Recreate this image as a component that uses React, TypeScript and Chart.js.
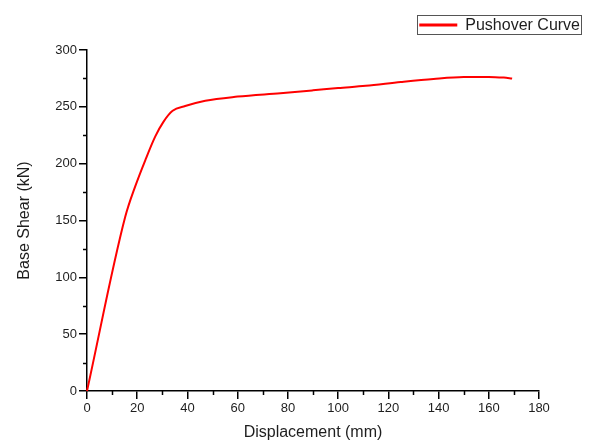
import React, { useEffect, useRef } from 'react';
import { Chart, registerables } from 'chart.js';

Chart.register(...registerables);

const displacement = [0, 15.2, 19.2, 23.2, 27.2, 30.5, 34.1, 39.1, 47.1, 60, 77, 90, 100, 111, 125, 138, 150, 160, 166, 169.3];
const baseShear = [0, 153, 180, 203, 224, 237, 246.5, 250.7, 255.4, 259, 262, 264.5, 266.5, 268.5, 271.8, 274.5, 276.2, 276.3, 275.7, 275];
const seriesLabel = 'Pushover Curve';
const xTitle = 'Displacement (mm)';
const yTitle = 'Base Shear (kN)';
const xRange = [0, 180];
const yRange = [0, 300];
const xStep = 20;
const yStep = 50;

const FONT = "'Liberation Sans', Arial, sans-serif";
const TEXT = '#1e1e1e';

const minorTicks = {
  id: 'minorTicks',
  afterDraw(chart: any) {
    const { ctx, chartArea, scales } = chart;
    const x = scales.x;
    const y = scales.y;
    ctx.save();
    ctx.strokeStyle = '#000';
    ctx.lineWidth = 1.5;
    ctx.beginPath();
    for (let v = xRange[0] + xStep / 2; v < xRange[1]; v += xStep) {
      const px = Math.round(x.getPixelForValue(v)) + 0.5;
      ctx.moveTo(px, chartArea.bottom);
      ctx.lineTo(px, chartArea.bottom + 4);
    }
    for (let v = yRange[0] + yStep / 2; v < yRange[1]; v += yStep) {
      const py = Math.round(y.getPixelForValue(v)) + 0.5;
      ctx.moveTo(chartArea.left - 4, py);
      ctx.lineTo(chartArea.left, py);
    }
    ctx.stroke();
    ctx.restore();
  },
};

const boxLegend = {
  id: 'boxLegend',
  afterDraw(chart: any) {
    const { ctx } = chart;
    const ds = chart.data.datasets[0];
    ctx.save();
    ctx.font = `16px ${FONT}`;
    const tw = ctx.measureText(ds.label).width;
    const right = 581;
    const top = 15;
    const h = 19;
    const lineLen = 38;
    const gap = 8;
    const left = right - (1.5 + lineLen + gap + tw + 1.5);
    ctx.strokeStyle = '#555';
    ctx.lineWidth = 1;
    ctx.strokeRect(Math.round(left) + 0.5, top + 0.5, Math.round(right - left), h);
    const cy = top + h / 2 + 0.5;
    ctx.strokeStyle = ds.borderColor;
    ctx.lineWidth = 3;
    ctx.beginPath();
    ctx.moveTo(left + 2, cy);
    ctx.lineTo(left + 2 + lineLen, cy);
    ctx.stroke();
    ctx.fillStyle = TEXT;
    ctx.textBaseline = 'middle';
    ctx.textAlign = 'left';
    ctx.fillText(ds.label, left + 2 + lineLen + gap, cy + 0.5);
    ctx.restore();
  },
};

export default function App() {
  const ref = useRef<HTMLCanvasElement>(null);
  useEffect(() => {
    const canvas = ref.current;
    if (!canvas) return;
    const chart = new Chart(canvas, {
      type: 'line',
      data: {
        datasets: [
          {
            label: seriesLabel,
            data: displacement.map((d, i) => ({ x: d, y: baseShear[i] })),
            borderColor: '#ff0000',
            borderWidth: 2,
            pointRadius: 0,
            fill: false,
            cubicInterpolationMode: 'monotone',
            clip: false as any,
          },
        ],
      },
      options: {
        animation: false,
        responsive: false,
        devicePixelRatio: 1,
        layout: { padding: { top: 50, right: 52, bottom: 0, left: 0 } },
        plugins: { legend: { display: false }, tooltip: { enabled: false } },
        scales: {
          x: {
            type: 'linear',
            min: xRange[0],
            max: xRange[1],
            afterFit: (s: any) => { s.height = 51; },
            ticks: { stepSize: xStep, color: TEXT, font: { family: FONT, size: 13 }, padding: 2, maxRotation: 0 },
            grid: { drawOnChartArea: false, drawTicks: true, tickLength: 8, color: '#000', lineWidth: 1.5 },
            border: { color: '#000', width: 1.5 },
            title: { display: true, text: xTitle, color: TEXT, font: { family: FONT, size: 16 }, padding: { top: 0, bottom: 0 } },
          },
          y: {
            type: 'linear',
            min: yRange[0],
            max: yRange[1],
            afterFit: (s: any) => { s.width = 87; },
            ticks: { stepSize: yStep, color: TEXT, font: { family: FONT, size: 13 }, padding: 2 },
            grid: { drawOnChartArea: false, drawTicks: true, tickLength: 8, color: '#000', lineWidth: 1.5 },
            border: { color: '#000', width: 1.5 },
            title: { display: true, text: yTitle, color: TEXT, font: { family: FONT, size: 16 }, padding: { top: 15, bottom: 0 } },
          },
        },
      },
      plugins: [minorTicks, boxLegend],
    });
    return () => chart.destroy();
  }, []);
  return (
    <div style={{ position: 'absolute', left: 0, top: 0, width: 591, height: 442, background: '#fff' }}>
      <canvas ref={ref} width={591} height={442} />
    </div>
  );
}
